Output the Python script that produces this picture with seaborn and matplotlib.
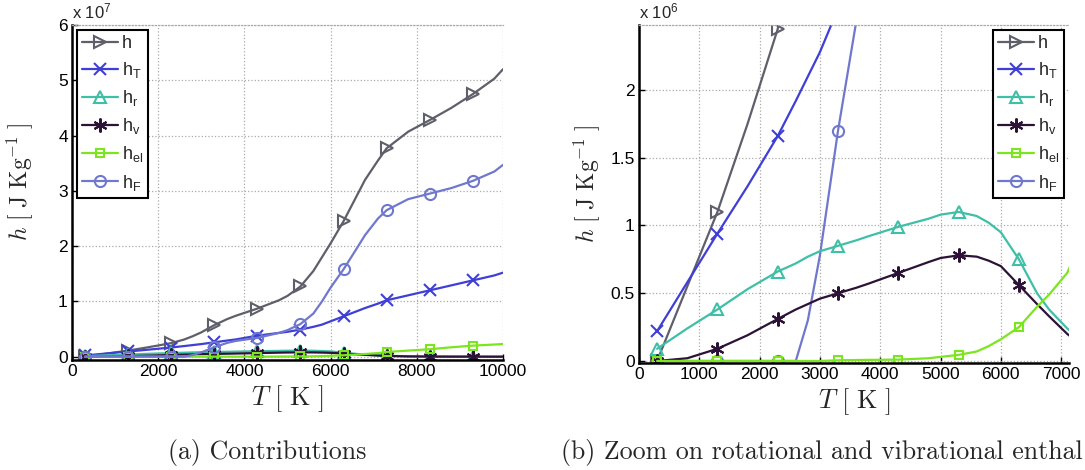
import numpy as np
import pandas as pd
import matplotlib
matplotlib.use("Agg")
import matplotlib.pyplot as plt
import seaborn as sns
from matplotlib.lines import Line2D
from matplotlib.ticker import FuncFormatter, FixedLocator

# ---------------- data ----------------
T = [300, 800, 1300, 1800, 2300, 2600, 2800, 3000, 3300, 3600, 3800, 4300, 4800,
     5000, 5300, 5600, 5800, 6000, 6300, 6600, 6800, 7100, 7300, 7800, 8300,
     8800, 9300, 9800, 10000]
T_markers = [300, 1300, 2300, 3300, 4300, 5300, 6300, 7300, 8300, 9300]

# enthalpy contributions, J/kg (values in 1e6)
h = [0.0, 0.55, 1.1, 1.75, 2.45, 3.1, 3.7, 4.4, 5.7, 6.8, 7.4, 8.7, 10.2,
     11.0, 12.7, 15.5, 18.0, 20.5, 24.5, 29.0, 32.0, 35.5, 37.7, 40.7, 42.8,
     45.0, 47.5, 50.3, 52.0]
h_T = [0.22, 0.58, 0.94, 1.29, 1.66, 1.92, 2.1, 2.28, 2.6, 2.92, 3.12, 3.8, 4.3,
       4.5, 4.9, 5.4, 5.8, 6.4, 7.3, 8.2, 8.8, 9.6, 10.2, 11.1, 12.0,
       12.9, 13.8, 14.7, 15.2]
h_r = [0.09, 0.24, 0.38, 0.53, 0.66, 0.72, 0.77, 0.81, 0.85, 0.89, 0.92, 0.99, 1.05,
       1.08, 1.10, 1.07, 1.02, 0.95, 0.75, 0.50, 0.38, 0.24, 0.17, 0.07, 0.03,
       0.02, 0.01, 0.01, 0.01]
h_v = [0.0, 0.02, 0.09, 0.19, 0.31, 0.38, 0.42, 0.46, 0.50, 0.54, 0.57, 0.65, 0.73,
       0.76, 0.78, 0.77, 0.74, 0.70, 0.56, 0.42, 0.33, 0.2, 0.13, 0.05, 0.02,
       0.01, 0.01, 0.0, 0.0]
h_el = [0.0, 0.0, 0.0, 0.0, 0.0, 0.0, 0.0, 0.0, 0.005, 0.007, 0.008, 0.01, 0.02,
        0.03, 0.045, 0.07, 0.11, 0.16, 0.25, 0.40, 0.49, 0.65, 0.85, 1.1, 1.35,
        1.7, 2.0, 2.2, 2.3]
h_F = [0.0, 0.0, 0.0, 0.0, 0.0, 0.0, 0.3, 0.78, 1.7, 2.5, 2.85, 3.4, 4.3,
       4.8, 5.9, 7.8, 10.0, 12.5, 15.8, 19.5, 22.0, 25.0, 26.5, 28.5, 29.5,
       30.5, 31.8, 33.5, 34.7]

series_names = ["h", "h_T", "h_r", "h_v", "h_el", "h_F"]
legend_labels = ["h", "h$_T$", "h$_r$", "h$_v$", "h$_{el}$", "h$_F$"]
series_values = [h, h_T, h_r, h_v, h_el, h_F]

left_xticks = [0, 2000, 4000, 6000, 8000, 10000]
left_yticks = [0, 1e7, 2e7, 3e7, 4e7, 5e7, 6e7]
right_xticks = [0, 1000, 2000, 3000, 4000, 5000, 6000, 7000]
right_yticks = [0, 0.5e6, 1e6, 1.5e6, 2e6]

captions = ["(a) Contributions", "(b) Zoom on rotational and vibrational enthal"]

# ---------------- styles ----------------
colors = {"h": "#5f5f6b", "h_T": "#3f3fd8", "h_r": "#3fbfa6",
          "h_v": "#2c1236", "h_el": "#7be61e", "h_F": "#6f78cc"}
markers = {"h": ">", "h_T": "x", "h_r": "^", "h_v": (6, 2, 0),
           "h_el": "s", "h_F": "o"}
msizes = {"h": 9, "h_T": 8, "h_r": 8, "h_v": 10, "h_el": 6, "h_F": 8}

df = pd.DataFrame({"T": T})
for n, v in zip(series_names, series_values):
    df[n] = np.array(v) * 1e6
df_m = df[df["T"].isin(T_markers)]

sns.set_theme(style="white")
plt.rcParams.update({
    "font.family": ["Liberation Sans", "DejaVu Sans"],
    "mathtext.default": "regular",
    "axes.linewidth": 1.5,
})

fig = plt.figure(figsize=(10.85, 4.70), dpi=100)
axL = fig.add_axes([72 / 1085, 1 - 360 / 470, 431 / 1085, 335 / 470])
axR = fig.add_axes([639 / 1085, 1 - 363 / 470, 430 / 1085, 338 / 470])


def draw(ax, order, xlim, ylim):
    for n in order:
        c = colors[n]
        sns.lineplot(data=df, x="T", y=n, ax=ax, color=c, lw=1.6, sort=True,
                     estimator=None, legend=False)
        sns.lineplot(data=df_m, x="T", y=n, ax=ax, color=c, lw=0, estimator=None,
                     marker=markers[n], markersize=msizes[n], markerfacecolor="none",
                     markeredgecolor=c, markeredgewidth=1.5, legend=False)
    ax.set_xlim(*xlim)
    ax.set_ylim(*ylim)


draw(axL, ["h", "h_T", "h_r", "h_v", "h_el", "h_F"], (0, 10000), (-0.06e7, 6e7))
draw(axR, ["h", "h_T", "h_F", "h_r", "h_v", "h_el"], (0, 7130), (-0.015e6, 2.48e6))

for ax, xt, yt, scale, exp_txt in [
    (axL, left_xticks, left_yticks, 1e7, "x 10$^7$"),
    (axR, right_xticks, right_yticks, 1e6, "x 10$^6$"),
]:
    ax.xaxis.set_major_locator(FixedLocator(xt))
    ax.yaxis.set_major_locator(FixedLocator(yt))
    ax.yaxis.set_major_formatter(FuncFormatter(lambda v, p, s=scale: f"{v / s:g}"))
    ax.xaxis.set_major_formatter(FuncFormatter(lambda v, p: f"{v:g}"))
    ax.tick_params(direction="in", length=4, width=1, labelsize=12.5, pad=3,
                   left=True, bottom=True, colors="black")
    ax.grid(True, color="#aaaaaa", linestyle=":", linewidth=0.9)
    for s in ["left", "bottom"]:
        ax.spines[s].set_color("black")
        ax.spines[s].set_linewidth(1.8)
    ax.spines["right"].set_visible(False)
    ax.spines["top"].set_color("#aaaaaa")
    ax.spines["top"].set_linestyle(":")
    ax.spines["top"].set_linewidth(0.9)
    ax.text(0.0, 1.01, exp_txt, transform=ax.transAxes, fontsize=12,
            ha="left", va="bottom")
    ax.set_xlabel(r"$\mathit{T}\ \mathrm{[\ K\ ]}$", fontsize=19,
                  math_fontfamily="cm", labelpad=3)
    ax.set_ylabel(r"$\mathit{h}\ \mathrm{[\ J\ Kg}^{\mathrm{-1}}\mathrm{\ ]}$",
                  fontsize=17, math_fontfamily="cm")

axL.yaxis.set_label_coords(-37 / 431, 0.53)
axR.yaxis.set_label_coords(-37 / 430, 0.53)

handles = [Line2D([0], [0], color=colors[n], lw=1.6, marker=markers[n],
                  markersize=msizes[n], markerfacecolor="none",
                  markeredgecolor=colors[n], markeredgewidth=1.5)
           for n in series_names]
for ax, loc in [(axL, "upper left"), (axR, "upper right")]:
    leg = ax.legend(handles, legend_labels, loc=loc, fontsize=13, frameon=True,
                    fancybox=False, framealpha=1, edgecolor="black",
                    handlelength=2.0, handletextpad=0.2, labelspacing=0.45,
                    borderpad=0.3, borderaxespad=0.25)
    leg.get_frame().set_linewidth(1.5)

fig.text(267 / 1085, 1 - 452 / 470, captions[0], fontsize=18.6, family="cmr10",
         ha="center", va="center")
fig.text(561 / 1085, 1 - 452 / 470, captions[1], fontsize=18.6, family="cmr10",
         ha="left", va="center")

fig.savefig("out.png", dpi=100)
